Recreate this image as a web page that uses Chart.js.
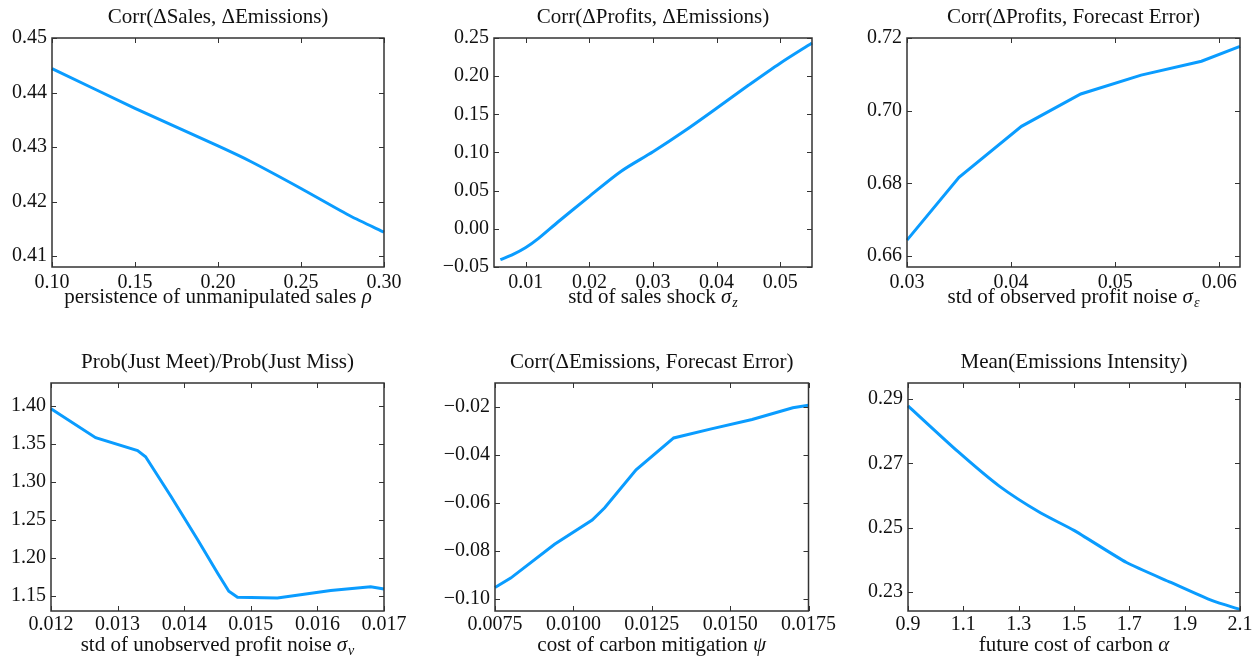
<!DOCTYPE html>
<html>
<head>
<meta charset="utf-8">
<script src="https://cdn.jsdelivr.net/npm/chart.js@4.4.1/dist/chart.umd.min.js"></script>
<style>
  html, body { margin: 0; padding: 0; background: #fff; }
  #wrap { position: relative; width: 1260px; height: 656px; overflow: hidden; }
  .panel { position: absolute; width: 420px; height: 320px; }
</style>
</head>
<body>
<div id="wrap">
  <div class="panel" style="left:0;top:0"><canvas id="c1"></canvas></div>
  <div class="panel" style="left:420px;top:0"><canvas id="c2"></canvas></div>
  <div class="panel" style="left:840px;top:0"><canvas id="c3"></canvas></div>
  <div class="panel" style="left:0;top:336px"><canvas id="c4"></canvas></div>
  <div class="panel" style="left:420px;top:336px"><canvas id="c5"></canvas></div>
  <div class="panel" style="left:840px;top:336px"><canvas id="c6"></canvas></div>
</div>
<script>
// Panel 1: Corr(dSales, dEmissions) vs rho
const rhoX     = [0.10, 0.15, 0.20, 0.22, 0.25, 0.28, 0.30];
const salesCorr = [0.4444, 0.4371, 0.4302, 0.4273, 0.4224, 0.4173, 0.4144];
const p1xTicks = [0.10, 0.15, 0.20, 0.25, 0.30];
const p1yTicks = [0.41, 0.42, 0.43, 0.44, 0.45];

// Panel 2: Corr(dProfits, dEmissions) vs sigma_z
const sigZ      = [0.006, 0.008, 0.010, 0.012, 0.015, 0.020, 0.025, 0.030, 0.035, 0.040, 0.045, 0.050, 0.055];
const profCorr  = [-0.0404, -0.0335, -0.0245, -0.0125, 0.0086, 0.0426, 0.0755, 0.1010, 0.1285, 0.1580, 0.1880, 0.2170, 0.2435];
const p2xTicks = [0.01, 0.02, 0.03, 0.04, 0.05];
const p2yTicks = [-0.05, 0.00, 0.05, 0.10, 0.15, 0.20, 0.25];

// Panel 3: Corr(dProfits, Forecast Error) vs sigma_eps
const sigEps    = [0.030, 0.035, 0.041, 0.0467, 0.0525, 0.0583, 0.062];
const fcCorr    = [0.6644, 0.6817, 0.6957, 0.7046, 0.7098, 0.7136, 0.7177];
const p3xTicks = [0.03, 0.04, 0.05, 0.06];
const p3yTicks = [0.66, 0.68, 0.70, 0.72];

// Panel 4: Prob(Just Meet)/Prob(Just Miss) vs sigma_nu
const sigNu     = [0.0120, 0.01267, 0.0133, 0.01342, 0.0138, 0.0142, 0.0145, 0.01467, 0.0148, 0.0154, 0.0162, 0.0168, 0.0170];
const meetMiss  = [1.396, 1.358, 1.341, 1.333, 1.281, 1.224, 1.180, 1.156, 1.148, 1.147, 1.157, 1.162, 1.159];
const p4xTicks = [0.012, 0.013, 0.014, 0.015, 0.016, 0.017];
const p4yTicks = [1.15, 1.20, 1.25, 1.30, 1.35, 1.40];

// Panel 5: Corr(dEmissions, Forecast Error) vs psi
const psiX      = [0.0075, 0.0080, 0.0094, 0.0106, 0.0110, 0.0120, 0.0132, 0.0144, 0.0157, 0.0170, 0.0175];
const emisCorr  = [-0.0952, -0.0913, -0.0772, -0.0671, -0.0620, -0.0462, -0.0329, -0.0291, -0.0252, -0.0203, -0.0193];
const p5xTicks = [0.0075, 0.0100, 0.0125, 0.0150, 0.0175];
const p5yTicks = [-0.10, -0.08, -0.06, -0.04, -0.02];

// Panel 6: Mean(Emissions Intensity) vs alpha
const alphaX    = [0.90, 1.08, 1.23, 1.38, 1.50, 1.69, 1.85, 2.00, 2.10];
const intensity = [0.2879, 0.2737, 0.2629, 0.2545, 0.2491, 0.2391, 0.2329, 0.2272, 0.2245];
const p6xTicks = [0.9, 1.1, 1.3, 1.5, 1.7, 1.9, 2.1];
const p6yTicks = [0.23, 0.25, 0.27, 0.29];

const FONT = '"Liberation Serif", "DejaVu Serif", serif';
const LINE = '#0a9cff';
const AXIS = '#333';
const TXT = '#111';

// frame + inward ticks on all four sides, plus the x label with math symbol
const frameTicks = {
  id: 'frameTicks',
  afterDraw(chart, args, opts) {
    const { ctx, chartArea: a, scales } = chart;
    const len = 5;
    ctx.save();
    ctx.strokeStyle = AXIS;
    ctx.lineWidth = 1;
    scales.x.ticks.forEach((t, i) => {
      const px = Math.round(scales.x.getPixelForTick(i)) + 0.5;
      ctx.beginPath();
      ctx.moveTo(px, a.bottom); ctx.lineTo(px, a.bottom - len);
      ctx.moveTo(px, a.top); ctx.lineTo(px, a.top + len);
      ctx.stroke();
    });
    scales.y.ticks.forEach((t, i) => {
      const py = Math.round(scales.y.getPixelForTick(i)) + 0.5;
      ctx.beginPath();
      ctx.moveTo(a.left, py); ctx.lineTo(a.left + len, py);
      ctx.moveTo(a.right, py); ctx.lineTo(a.right - len, py);
      ctx.stroke();
    });
    ctx.lineWidth = 1.5;
    ctx.strokeRect(a.left, a.top, a.right - a.left, a.bottom - a.top);

    // x-axis label: plain text + italic symbol + optional subscript
    const fMain = `21px ${FONT}`, fSym = `italic 21px ${FONT}`, fSub = `italic 14px ${FONT}`;
    ctx.fillStyle = TXT;
    ctx.textBaseline = 'middle';
    ctx.textAlign = 'left';
    ctx.font = fMain; const w1 = ctx.measureText(opts.text).width;
    ctx.font = fSym;  const w2 = ctx.measureText(opts.sym).width;
    ctx.font = fSub;  const w3 = opts.sub ? ctx.measureText(opts.sub).width + 1 : 0;
    let x = (a.left + a.right) / 2 - (w1 + w2 + w3) / 2;
    const y = opts.y;
    ctx.font = fMain; ctx.fillText(opts.text, x, y); x += w1;
    ctx.font = fSym;  ctx.fillText(opts.sym, x, y); x += w2;
    if (opts.sub) { ctx.font = fSub; ctx.fillText(opts.sub, x + 1, y + 6); }
    ctx.restore();
  }
};

const fmt = d => v => v.toFixed(d).replace('-', '\u2212');

function makePanel(id, cfg) {
  const ctx = document.getElementById(id);
  const topPad = cfg.row === 1 ? 5 : 14;
  new Chart(ctx, {
    type: 'line',
    data: {
      datasets: [{
        data: cfg.xs.map((x, i) => ({ x: x, y: cfg.ys[i] })),
        borderColor: LINE, borderWidth: 3, pointRadius: 0,
        tension: cfg.tension || 0, fill: false, clip: false
      }]
    },
    options: {
      responsive: false, animation: false,
      layout: { padding: { left: 0, top: topPad, right: 420 - cfg.r, bottom: 0 } },
      plugins: {
        legend: { display: false }, tooltip: { enabled: false },
        title: {
          display: true, text: cfg.title, fullSize: false, color: TXT,
          font: { family: FONT, size: 21, weight: 'normal', lineHeight: 1.2 },
          padding: { top: 0, bottom: cfg.t - topPad - 25.2 }
        },
        frameTicks: { text: cfg.xLabel, sym: cfg.sym, sub: cfg.sub, y: cfg.row === 1 ? 297 : 309 }
      },
      scales: {
        x: {
          type: 'linear', min: cfg.xMin, max: cfg.xMax,
          afterBuildTicks: s => { s.ticks = cfg.xTicks.map(v => ({ value: v })); },
          afterFit: s => { s.height = 320 - cfg.b; },
          grid: { display: false, drawTicks: false },
          border: { display: false },
          ticks: { color: TXT, padding: cfg.row === 1 ? 6 : 4, maxRotation: 0, autoSkip: false,
                   font: { family: FONT, size: 20, lineHeight: 1 }, callback: fmt(cfg.xDec) }
        },
        y: {
          type: 'linear', min: cfg.yMin, max: cfg.yMax,
          afterBuildTicks: s => { s.ticks = cfg.yTicks.map(v => ({ value: v })); },
          afterFit: s => { s.width = cfg.l; },
          grid: { display: false, drawTicks: false },
          border: { display: false },
          ticks: { color: TXT, padding: 5, autoSkip: false,
                   font: { family: FONT, size: 20 }, callback: fmt(cfg.yDec) }
        }
      }
    },
    plugins: [frameTicks]
  });
}

['c1','c2','c3','c4','c5','c6'].forEach(id => {
  const c = document.getElementById(id); c.width = 420; c.height = 320;
  c.style.width = '420px'; c.style.height = '320px';
});

makePanel('c1', { row: 1, l: 52, t: 38, r: 384, b: 267, title: 'Corr(\u0394Sales, \u0394Emissions)',
  xLabel: 'persistence of unmanipulated sales ', sym: '\u03C1', xs: rhoX, ys: salesCorr,
  xMin: 0.10, xMax: 0.30, yMin: 0.408, yMax: 0.45, xTicks: p1xTicks, yTicks: p1yTicks, xDec: 2, yDec: 2, tension: 0.2 });
makePanel('c2', { row: 1, l: 74, t: 38, r: 392, b: 267, title: 'Corr(\u0394Profits, \u0394Emissions)',
  xLabel: 'std of sales shock ', sym: '\u03C3', sub: 'z', xs: sigZ, ys: profCorr,
  xMin: 0.005, xMax: 0.055, yMin: -0.05, yMax: 0.25, xTicks: p2xTicks, yTicks: p2yTicks, xDec: 2, yDec: 2, tension: 0.3 });
makePanel('c3', { row: 1, l: 67, t: 38, r: 400, b: 267, title: 'Corr(\u0394Profits, Forecast Error)',
  xLabel: 'std of observed profit noise ', sym: '\u03C3', sub: '\u03B5', xs: sigEps, ys: fcCorr,
  xMin: 0.03, xMax: 0.062, yMin: 0.657, yMax: 0.72, xTicks: p3xTicks, yTicks: p3yTicks, xDec: 2, yDec: 2 });
makePanel('c4', { row: 2, l: 51, t: 47, r: 384, b: 275, title: 'Prob(Just Meet)/Prob(Just Miss)',
  xLabel: 'std of unobserved profit noise ', sym: '\u03C3', sub: '\u03BD', xs: sigNu, ys: meetMiss,
  xMin: 0.012, xMax: 0.017, yMin: 1.13, yMax: 1.43, xTicks: p4xTicks, yTicks: p4yTicks, xDec: 3, yDec: 2 });
makePanel('c5', { row: 2, l: 75, t: 47, r: 392, b: 275, title: 'Corr(\u0394Emissions, Forecast Error)',
  xLabel: 'cost of carbon mitigation ', sym: '\u03C8', xs: psiX, ys: emisCorr,
  xMin: 0.0075, xMax: 0.0175, yMin: -0.105, yMax: -0.01, xTicks: p5xTicks, yTicks: p5yTicks, xDec: 4, yDec: 2 });
makePanel('c6', { row: 2, l: 68, t: 47, r: 400, b: 275, title: 'Mean(Emissions Intensity)',
  xLabel: 'future cost of carbon ', sym: '\u03B1', xs: alphaX, ys: intensity,
  xMin: 0.9, xMax: 2.1, yMin: 0.224, yMax: 0.295, xTicks: p6xTicks, yTicks: p6yTicks, xDec: 1, yDec: 2, tension: 0.2 });
</script>
</body>
</html>
